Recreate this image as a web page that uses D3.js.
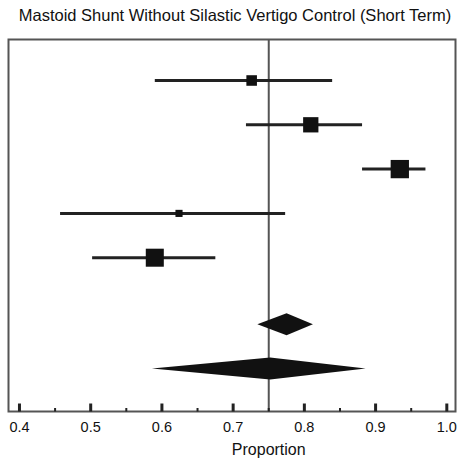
<!DOCTYPE html>
<html>
<head>
<meta charset="utf-8">
<script src="https://cdn.jsdelivr.net/npm/d3@7"></script>
<style>
body { margin: 0; background: #fff; }
text { font-family: "Liberation Sans", Arial, sans-serif; fill: #111; }
</style>
</head>
<body>
<svg width="469" height="461"></svg>
<script>
// study estimates (proportion with 95% CI) and relative weights
var studyPoint = [0.726, 0.809, 0.934, 0.624, 0.590];
var studyLower = [0.590, 0.718, 0.881, 0.457, 0.502];
var studyUpper = [0.839, 0.881, 0.970, 0.773, 0.675];
var studyWeight = [11, 23, 33, 5, 32];
var studyRow = [0, 1, 2, 3, 4];

// pooled estimates drawn as diamonds
var pooledPoint = [0.775, 0.752];
var pooledLower = [0.734, 0.586];
var pooledUpper = [0.812, 0.886];
var pooledRow = [5.5, 6.5];

var refValue = 0.75;
var tickValues = [0.4, 0.5, 0.6, 0.7, 0.8, 0.9, 1.0];
var minorTicks = [0.45, 0.55, 0.65, 0.75, 0.85, 0.95];

var svg = d3.select("svg");
var frame = {left: 8.5, right: 455.5, top: 39.5, bottom: 411.5};

var x = d3.scaleLinear().domain([0.3846, 1.0122]).range([frame.left, frame.right]);
var y = d3.scaleLinear().domain([0, 1]).range([80.5, 124.8]);
var size = d3.scaleSqrt().domain([0, 33]).range([0, 18.3]);

svg.append("text")
    .attr("x", 235).attr("y", 20.5)
    .attr("text-anchor", "middle")
    .style("font-size", "16.5px")
    .text("Mastoid Shunt Without Silastic Vertigo Control (Short Term)");

// reference line
svg.append("line")
    .attr("x1", x(refValue)).attr("x2", x(refValue))
    .attr("y1", frame.top).attr("y2", frame.bottom)
    .attr("stroke", "#555").attr("stroke-width", 2);

var studies = studyPoint.map(function(p, i) {
  return {p: p, lo: studyLower[i], hi: studyUpper[i], w: studyWeight[i], row: studyRow[i]};
});

svg.selectAll(".ci")
    .data(studies)
  .enter().append("line")
    .attr("class", "ci")
    .attr("x1", function(d) { return x(d.lo); })
    .attr("x2", function(d) { return x(d.hi); })
    .attr("y1", function(d) { return y(d.row); })
    .attr("y2", function(d) { return y(d.row); })
    .attr("stroke", "#222").attr("stroke-width", 3);

svg.selectAll(".box")
    .data(studies)
  .enter().append("rect")
    .attr("class", "box")
    .attr("x", function(d) { return x(d.p) - size(d.w) / 2; })
    .attr("y", function(d) { return y(d.row) - size(d.w) / 2; })
    .attr("width", function(d) { return size(d.w); })
    .attr("height", function(d) { return size(d.w); })
    .attr("fill", "#111");

var pooled = pooledPoint.map(function(p, i) {
  return {p: p, lo: pooledLower[i], hi: pooledUpper[i], row: pooledRow[i]};
});

svg.selectAll(".diamond")
    .data(pooled)
  .enter().append("path")
    .attr("class", "diamond")
    .attr("d", function(d) {
      var cy = y(d.row), h = 11;
      return "M" + x(d.lo) + "," + cy + "L" + x(d.p) + "," + (cy - h) +
             "L" + x(d.hi) + "," + cy + "L" + x(d.p) + "," + (cy + h) + "Z";
    })
    .attr("fill", "#111");

// frame
svg.append("rect")
    .attr("x", frame.left).attr("y", frame.top)
    .attr("width", frame.right - frame.left).attr("height", frame.bottom - frame.top)
    .attr("fill", "none").attr("stroke", "#555").attr("stroke-width", 2);

// ticks inside the frame
svg.selectAll(".major")
    .data(tickValues)
  .enter().append("line")
    .attr("x1", function(d) { return x(d); }).attr("x2", function(d) { return x(d); })
    .attr("y1", frame.bottom - 8).attr("y2", frame.bottom)
    .attr("stroke", "#222").attr("stroke-width", 3);

svg.selectAll(".minor")
    .data(minorTicks)
  .enter().append("line")
    .attr("x1", function(d) { return x(d); }).attr("x2", function(d) { return x(d); })
    .attr("y1", frame.bottom - 3.5).attr("y2", frame.bottom)
    .attr("stroke", "#222").attr("stroke-width", 2);

svg.selectAll(".tlabel")
    .data(tickValues)
  .enter().append("text")
    .attr("x", function(d) { return x(d); })
    .attr("y", 432)
    .attr("text-anchor", "middle")
    .style("font-size", "14.5px")
    .text(d3.format(".1f"));

svg.append("text")
    .attr("x", x(refValue)).attr("y", 454.5)
    .attr("text-anchor", "middle")
    .style("font-size", "16px")
    .text("Proportion");
</script>
</body>
</html>
